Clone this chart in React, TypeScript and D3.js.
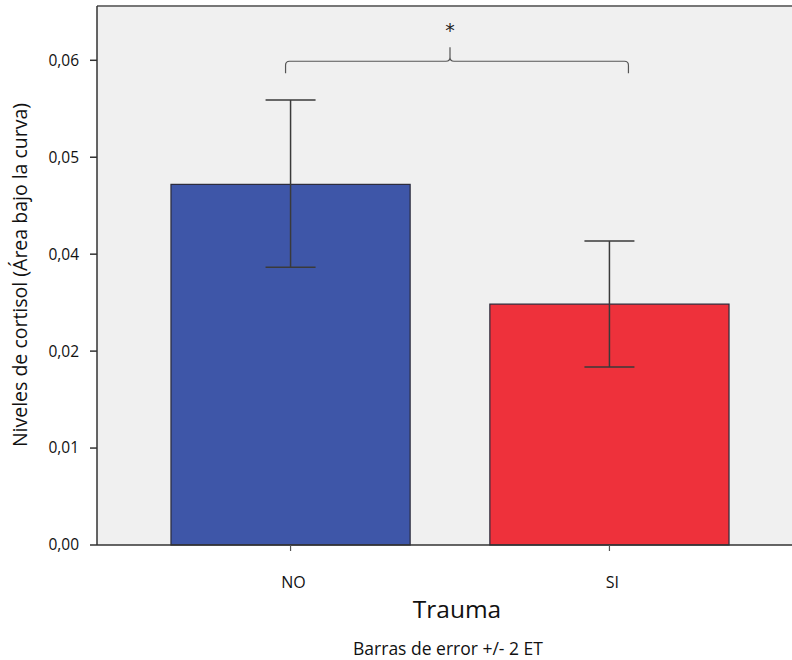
import React from "react";
import * as d3 from "d3";

// Groups and summary statistics (mean with ±2 SE limits)
const categories = ["NO", "SI"];
const means = [0.0372, 0.02485];
const upperLimits = [0.0459, 0.03135];
const lowerLimits = [0.02865, 0.01835];
const barColors = ["#3e56a8", "#ee313b"];

// Axis tick positions and their printed labels
const tickValues = [0, 0.01, 0.02, 0.03, 0.04, 0.05];
const tickLabels = ["0,00", "0,01", "0,02", "0,04", "0,05", "0,06"];

const yTitle = "Niveles de cortisol (Área bajo la curva)";
const xTitle = "Trauma";
const footnote = "Barras de error +/- 2 ET";
const significance = "*";

const W = 792;
const H = 660;
const left = 97;
const top = 6;
const bottom = 545;
const font = "'Open Sans', 'Noto Sans', sans-serif";

export default function App() {
  const y = d3.scaleLinear().domain([0, 0.0556]).range([bottom, top]);
  const x = d3
    .scaleBand<string>()
    .domain(categories)
    .range([left, 803])
    .paddingInner(0.25)
    .paddingOuter(0.232);
  const bw = x.bandwidth();
  const capHalf = 25;

  const cx = (c: string) => (x(c) as number) + bw / 2;
  const x1 = cx(categories[0]);
  const x2 = cx(categories[1]);
  const bracketY = y(0.0499);
  const bracketDrop = 12;
  const mid = (x1 + x2) / 2;
  const r = 4;
  const bracketPath = d3.path();
  bracketPath.moveTo(x1 - 5, bracketY + bracketDrop);
  bracketPath.lineTo(x1 - 5, bracketY + r);
  bracketPath.quadraticCurveTo(x1 - 5, bracketY, x1 - 5 + r, bracketY);
  bracketPath.lineTo(mid - 4, bracketY);
  bracketPath.quadraticCurveTo(mid, bracketY, mid, bracketY - 4);
  bracketPath.lineTo(mid, bracketY - 14);
  bracketPath.moveTo(mid, bracketY - 4);
  bracketPath.quadraticCurveTo(mid, bracketY, mid + 4, bracketY);
  bracketPath.lineTo(x2 + 19 - r, bracketY);
  bracketPath.quadraticCurveTo(x2 + 19, bracketY, x2 + 19, bracketY + r);
  bracketPath.lineTo(x2 + 19, bracketY + bracketDrop);

  return (
    <svg
      width={W}
      height={H}
      style={{ position: "absolute", left: 0, top: 0, background: "#fff" }}
      fontFamily={font}
    >
      {/* plot background */}
      <rect x={left} y={top} width={W - left} height={bottom - top} fill="#f0f0f0" />
      <line x1={left} x2={W} y1={top} y2={top} stroke="#777" strokeWidth={2} />

      {/* bars */}
      {categories.map((c, i) => (
        <rect
          key={c}
          x={x(c)}
          y={y(means[i])}
          width={bw}
          height={bottom - y(means[i])}
          fill={barColors[i]}
          stroke="#2a2a3a"
          strokeWidth={1.2}
        />
      ))}

      {/* error bars */}
      {categories.map((c, i) => {
        const c0 = cx(c);
        return (
          <g key={c} stroke="#3a3a3a" strokeWidth={1.5}>
            <line x1={c0} x2={c0} y1={y(upperLimits[i])} y2={y(lowerLimits[i])} />
            <line x1={c0 - capHalf} x2={c0 + capHalf} y1={y(upperLimits[i])} y2={y(upperLimits[i])} />
            <line x1={c0 - capHalf} x2={c0 + capHalf} y1={y(lowerLimits[i])} y2={y(lowerLimits[i])} />
          </g>
        );
      })}

      {/* significance bracket */}
      <path d={bracketPath.toString()} fill="none" stroke="#555" strokeWidth={1.2} />
      <text x={mid} y={bracketY - 24} textAnchor="middle" fontSize={19} fill="#222" fontFamily="'DejaVu Sans', sans-serif">
        {significance}
      </text>

      {/* y axis */}
      <line x1={left} x2={left} y1={top} y2={bottom} stroke="#333" strokeWidth={1.5} />
      {tickValues.map((v, i) => (
        <g key={v}>
          <line x1={left - 7} x2={left} y1={y(v)} y2={y(v)} stroke="#333" strokeWidth={1.5} />
          <text x={79} y={y(v)} dy="0.35em" textAnchor="end" fontSize={15.5} fill="#111">
            {tickLabels[i]}
          </text>
        </g>
      ))}
      <text
        transform={`translate(27,${275}) rotate(-90)`}
        textAnchor="middle"
        fontSize={19.5}
        fill="#111"
      >
        {yTitle}
      </text>

      {/* x axis */}
      <line x1={left} x2={W} y1={bottom} y2={bottom} stroke="#333" strokeWidth={1.5} />
      {categories.map((c) => (
        <g key={c}>
          <line x1={cx(c)} x2={cx(c)} y1={bottom} y2={bottom + 6} stroke="#555" strokeWidth={1.2} />
          <text x={cx(c) + 3} y={588} textAnchor="middle" fontSize={16} fill="#111">
            {c}
          </text>
        </g>
      ))}
      <text x={457} y={618} textAnchor="middle" fontSize={24.5} fill="#111">
        {xTitle}
      </text>
      <text x={448} y={655} textAnchor="middle" fontSize={17.5} fill="#111">
        {footnote}
      </text>
    </svg>
  );
}
